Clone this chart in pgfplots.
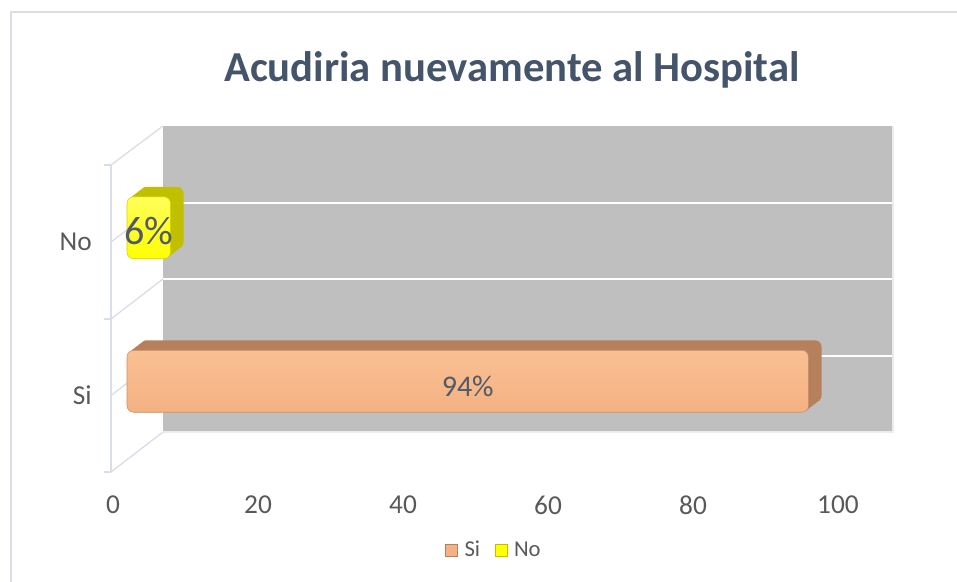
\documentclass[border=0pt]{standalone}
\usepackage{pgfplots}
\pgfplotsset{compat=1.18}
\usepackage{fontspec}
\setmainfont{Carlito}
\definecolor{wall}{RGB}{191,191,191}
\definecolor{siF}{RGB}{244,177,131}
\definecolor{siT}{RGB}{250,192,146}
\definecolor{siD}{RGB}{183,128,92}
\definecolor{noF}{RGB}{255,255,0}
\definecolor{noT}{RGB}{255,255,90}
\definecolor{noD}{RGB}{192,192,0}
\definecolor{frame}{RGB}{217,222,232}
\definecolor{tickc}{RGB}{89,89,89}
\definecolor{ttl}{RGB}{68,84,106}
\definecolor{lbl}{RGB}{80,90,106}
\begin{document}
\begin{tikzpicture}
\begin{scope}[x=0.75pt,y=-0.75pt]
\path[use as bounding box] (0,0) rectangle (957,582);
\draw[frame, line width=1.5] (11,582) -- (11,12) -- (957,12);
\fill[wall] (163,126) rectangle (893,432);
\foreach \y in {202.5,279,355.5}{\draw[white, line width=1.5] (163,\y) -- (893,\y);}
\draw[white!85!gray, line width=1] (163,432) -- (893,432) -- (893,126);
\foreach \a/\b in {165/126, 242/202.5, 319/279, 395.5/355.5, 472/432}{\draw[frame, line width=1] (111,\a) -- (163,\b);}
\draw[frame,line width=1.5] (111,165) -- (111,472);
\foreach \a in {165,319,472}{\draw[frame,line width=1.5] (104,\a) -- (111,\a);}
\node[font=\bfseries\fontsize{32}{36}\selectfont, text=ttl] at (512,70) {Acudiria nuevamente al Hospital};
\end{scope}
\begin{axis}[at={(84.75pt,-354pt)}, anchor=south west, scale only axis,
  width=543.75pt, height=230.25pt,
  xmin=0, xmax=100, ymin=-0.5, ymax=1.5,
  axis line style={draw=none}, major tick length=0pt, tick style={draw=none},
  xtick={0,20,40,60,80,100}, ytick={0,1}, yticklabels={Si,No},
  /pgf/number format/assume math mode=true,
  ticklabel style={font=\fontsize{20.5}{22}\selectfont, text=tickc},
  xticklabel style={anchor=center, yshift=-24.75pt},
  yticklabel style={anchor=east, inner sep=0pt, xshift=-15.75pt},
  clip=false, legend columns=2,
  legend style={at={(0.526,-0.254)}, anchor=center, draw=none, fill=none,
    font=\fontsize{17}{19}\selectfont, text=tickc,
    /tikz/every odd column/.append style={column sep=3pt},
    /tikz/every even column/.append style={column sep=9pt}},
  bar width=46.5pt]
% Si bar extrusion
\addplot[xbar, bar shift=0pt, fill=siD, draw=none, rounded corners=5pt, xshift=20.25pt, yshift=18pt, forget plot] coordinates {(94,0)};
\addplot[xbar, bar shift=0pt, fill=siD, draw=none, rounded corners=5pt, xshift=17.81pt, yshift=16.13pt, forget plot] coordinates {(94,0)};
\addplot[xbar, bar shift=0pt, fill=siD, draw=none, rounded corners=5pt, xshift=15.38pt, yshift=14.25pt, forget plot] coordinates {(94,0)};
\addplot[xbar, bar shift=0pt, fill=siD, draw=none, rounded corners=5pt, xshift=12.94pt, yshift=12.38pt, forget plot] coordinates {(94,0)};
\addplot[xbar, bar shift=0pt, top color=siT, bottom color=siF, draw=siD!70!siF, rounded corners=5pt, xshift=10.5pt, yshift=10.5pt, forget plot] coordinates {(94,0)};
% No bar extrusion
\addplot[xbar, bar shift=0pt, fill=noD, draw=none, rounded corners=5pt, xshift=20.25pt, yshift=18pt, forget plot] coordinates {(6,1)};
\addplot[xbar, bar shift=0pt, fill=noD, draw=none, rounded corners=5pt, xshift=17.81pt, yshift=16.13pt, forget plot] coordinates {(6,1)};
\addplot[xbar, bar shift=0pt, fill=noD, draw=none, rounded corners=5pt, xshift=15.38pt, yshift=14.25pt, forget plot] coordinates {(6,1)};
\addplot[xbar, bar shift=0pt, fill=noD, draw=none, rounded corners=5pt, xshift=12.94pt, yshift=12.38pt, forget plot] coordinates {(6,1)};
\addplot[xbar, bar shift=0pt, top color=noT, bottom color=noF, draw=noD!70!noF, rounded corners=5pt, xshift=10.5pt, yshift=10.5pt, forget plot] coordinates {(6,1)};
\node[font=\fontsize{22.5}{24}\selectfont, text=lbl] at ([xshift=10.5pt,yshift=7pt]axis cs:47,0) {94\%};
\node[font=\fontsize{30}{33}\selectfont, text=lbl] at ([xshift=10.5pt,yshift=8pt]axis cs:3,1) {6\%};
\addlegendimage{legend image code/.code={\fill[siF,draw=siD] (0pt,-4.5pt) rectangle (9pt,4.5pt);}}
\addlegendentry{Si}
\addlegendimage{legend image code/.code={\fill[noF,draw=noD] (0pt,-4.5pt) rectangle (9pt,4.5pt);}}
\addlegendentry{No}
\end{axis}
\end{tikzpicture}
\end{document}
